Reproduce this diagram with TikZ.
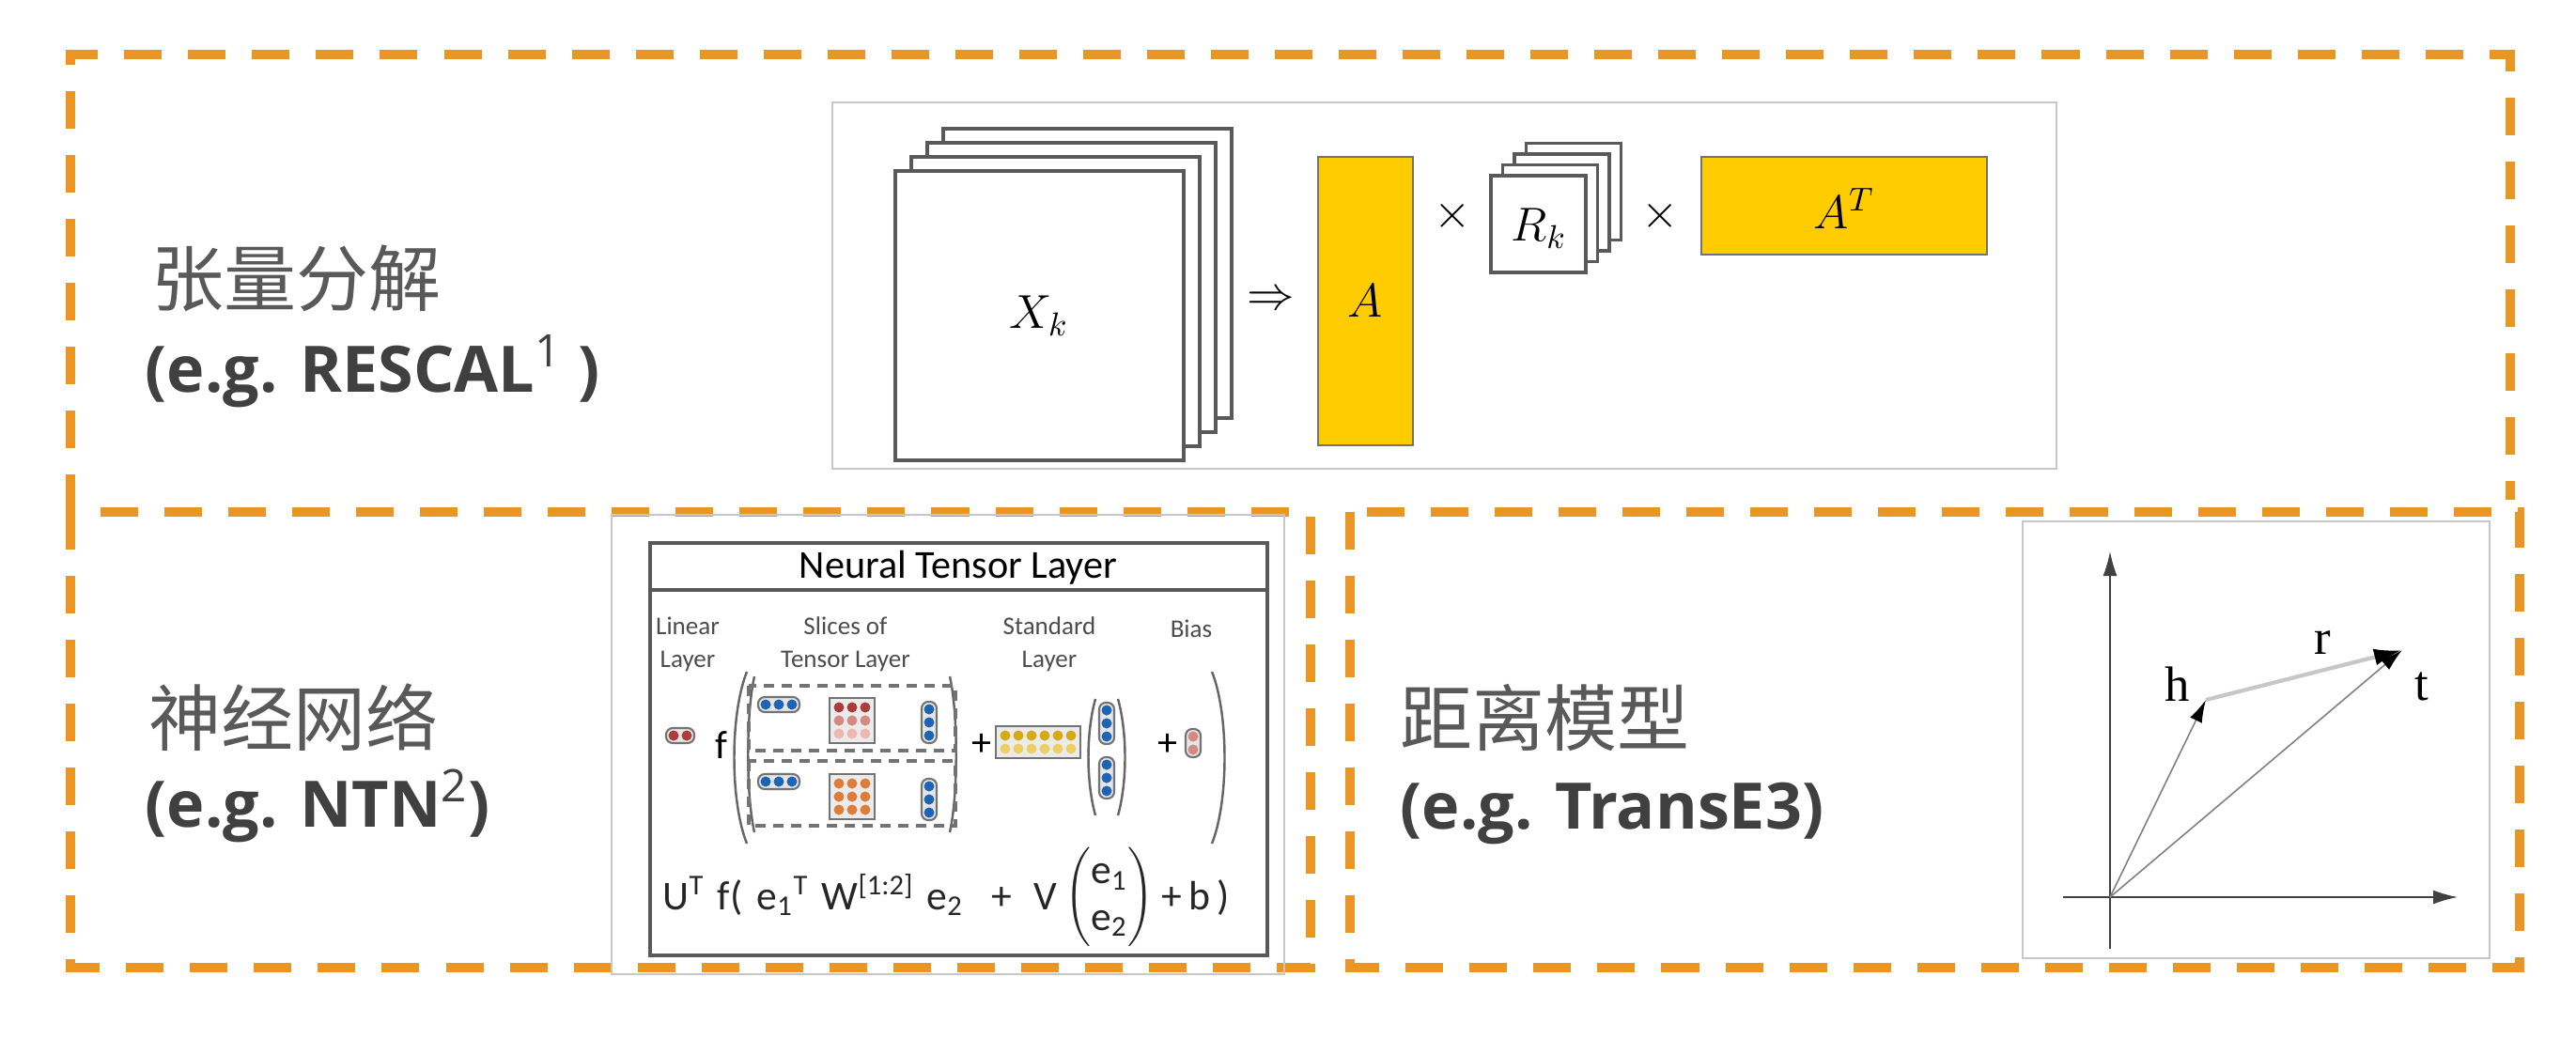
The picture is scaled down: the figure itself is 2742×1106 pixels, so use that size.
\documentclass[tikz,border=0pt]{standalone}
\usepackage{fontspec}
\usepackage{tikz}
\usetikzlibrary{arrows.meta}
\setmainfont{Open Sans}
\newfontfamily\cjkfont{Noto Sans CJK SC}
\newfontfamily\ntnfont{Carlito}
\newfontfamily\vecfont{Liberation Serif}
\definecolor{dashorange}{RGB}{233,150,36}
\definecolor{boxyellow}{RGB}{255,204,0}
\definecolor{headgray}{RGB}{89,89,89}
\definecolor{subgray}{RGB}{64,64,64}
\definecolor{ntnblue}{RGB}{30,100,180}
\definecolor{ntnred}{RGB}{170,60,58}
\definecolor{ntnpink}{RGB}{214,136,130}
\definecolor{ntnlight}{RGB}{236,184,178}
\definecolor{ntnorange}{RGB}{222,124,58}
\definecolor{ntnyellow}{RGB}{214,170,20}
\definecolor{ntnyellowb}{RGB}{236,208,100}

% rows and columns of little unit circles
\newcommand{\hpill}[4]{%
  \draw[pill] ({#1-8},{#2-8}) rectangle ({#1+14*(#3-1)+8},{#2+8});
  \foreach \i in {1,...,#3} \fill[#4] ({#1+14*(\i-1)},#2) circle (5.5);}
\newcommand{\vpill}[4]{%
  \draw[pill] ({#1-8},{#2-8}) rectangle ({#1+8},{#2+14*(#3-1)+8});
  \foreach \i in {1,...,#3} \fill[#4] (#1,{#2+14*(\i-1)}) circle (5.5);}
\newcommand{\dotgrid}[5]{%
  \draw[grid] ({#1-10},{#2-10}) rectangle ({#1+14*(#3-1)+10},{#2+14*(#4-1)+10});
  \foreach \c [count=\r] in {#5}
    \foreach \i in {1,...,#3} \fill[\c] ({#1+14*(\i-1)},{#2+14*(\r-1)}) circle (5.5);}

\begin{document}
\begin{tikzpicture}[x=0.01cm, y=-0.01cm,
    dashbox/.style={draw=dashorange, line width=2.8pt, dash pattern=on 0.4cm off 0.28cm},
    frame/.style={draw=black!22, line width=0.6pt},
    sheet/.style={draw=black!65, fill=white, line width=0.9pt},
    ybar/.style={draw=black!55, fill=boxyellow, line width=0.8pt},
    pill/.style={draw=black!55, fill=black!10, line width=0.6pt, rounded corners=2pt},
    grid/.style={draw=black!55, fill=black!8, line width=0.7pt},
    slice/.style={draw=black!55, line width=0.9pt, dash pattern=on 1.1mm off 0.8mm},
    paren/.style={draw=black!60, line width=0.7pt},
    cjk/.style={inner sep=0pt, anchor=west, text=headgray, font=\cjkfont\fontsize{21.9}{26}\selectfont},
    eg/.style={inner sep=0pt, anchor=west, text=subgray, font=\bfseries\fontsize{19.4}{23}\selectfont},
    mathlbl/.style={inner sep=0pt, font=\fontsize{14.5}{17}\selectfont},
    small/.style={inner sep=0pt, align=center, text=black!70, font=\ntnfont\fontsize{7.7}{10}\selectfont},
    eqn/.style={inner sep=0pt, anchor=base west, text=black!85, font=\ntnfont\fontsize{12.4}{15}\selectfont},
    axis/.style={draw=black!75, line width=0.5pt, -{Latex[length=2.6mm,width=1.5mm]}},
    vec/.style={draw=black!50, line width=0.45pt, -{Latex[length=2.4mm,width=1.4mm,color=black]}},
    rvec/.style={draw=black!22, line width=1.2pt, -{Latex[length=3mm,width=1.8mm,color=black]}},
    vlbl/.style={inner sep=0pt, font=\vecfont\fontsize{15}{18}\selectfont}]
\useasboundingbox (0,0) rectangle (2742,1106);

% the three dashed panels
\draw[dashbox] (75,545) -- (75,58) -- (2672,58) -- (2672,532);
\draw[dashbox] (75,545) rectangle (1395,1030);
\draw[dashbox] (1437,545) rectangle (2682,1030);

% --- tensor factorisation ---
\node[cjk] (tfname) at (161,296) {张量分解};
\node[eg] (tfeg) at (154,395) {(e.g. RESCAL\textsuperscript{\mdseries 1} )};
\draw[frame] (886,109) rectangle (2189,499);
\foreach \k in {3,2,1,0}
  \filldraw[sheet] ({953+17*\k},{182-15*\k}) rectangle ++(307,308);
\node[mathlbl] (xk) at (1106,336) {$X_k$};
\node[mathlbl] (impl) at (1353,320) {$\Rightarrow$};
\filldraw[ybar] (1403,167) rectangle (1504,474);
\node[mathlbl] (amat) at (1453,320) {$A$};
\node[mathlbl] (times1) at (1546,230) {$\times$};
\foreach \k in {3,2,1,0}
  \filldraw[sheet] ({1587+12.5*\k},{187-11.5*\k}) rectangle ++(101,103);
\node[mathlbl] (rk) at (1638,243) {$R_k$};
\node[mathlbl] (times2) at (1767,230) {$\times$};
\filldraw[ybar] (1811,167) rectangle (2115,271);
\node[mathlbl] (at) at (1963,222) {$A^T$};

% --- neural network ---
\node[cjk] (nnname) at (158,764) {神经网络};
\node[eg] (nneg) at (154,858) {(e.g. NTN\textsuperscript{\mdseries 2})};
\draw[frame] (651,548) rectangle (1367,1037);
\draw[draw=black!65, line width=1pt] (692,578) rectangle (1349,1017);
\draw[draw=black!65, line width=1pt] (692,628) -- (1349,628);
\node[inner sep=0pt, font=\ntnfont\fontsize{12}{14}\selectfont] (ntntitle) at (1020,604) {Neural Tensor Layer};
\node[small] (lin) at (732,686) {Linear\\Layer};
\node[small] (slc) at (900,686) {Slices of\\Tensor Layer};
\node[small] (std) at (1117,686) {Standard\\Layer};
\node[small] (bias) at (1268,669) {Bias};

\hpill{717}{783}{2}{ntnred}
\node[inner sep=0pt, font=\ntnfont\fontsize{12}{14}\selectfont] (fn) at (768,793) {f};
\draw[paren] (795,715) .. controls (777,760) and (777,853) .. (795,898);
\draw[paren] (1290,715) .. controls (1308,760) and (1308,853) .. (1290,898);
\draw[paren] (803,720) .. controls (794,760) and (794,846) .. (803,886);
\draw[paren] (1011,720) .. controls (1020,760) and (1020,846) .. (1011,886);
\draw[slice] (797,730) rectangle (1017,799);
\draw[slice] (797,810) rectangle (1017,879);
\hpill{815}{750}{3}{ntnblue}
\dotgrid{893}{753}{3}{3}{ntnred,ntnpink,ntnlight}
\vpill{989}{755}{3}{ntnblue}
\hpill{815}{832}{3}{ntnblue}
\dotgrid{893}{834}{3}{3}{ntnorange,ntnorange,ntnorange}
\vpill{989}{837}{3}{ntnblue}
\node[inner sep=0pt, font=\ntnfont\fontsize{12}{14}\selectfont] (plus1) at (1045,793) {+};
\dotgrid{1070}{783}{6}{2}{ntnyellow,ntnyellowb}
\draw[paren] (1166,744) .. controls (1156,780) and (1156,832) .. (1166,868);
\draw[paren] (1190,744) .. controls (1200,780) and (1200,832) .. (1190,868);
\vpill{1178}{756}{3}{ntnblue}
\vpill{1178}{814}{3}{ntnblue}
\node[inner sep=0pt, font=\ntnfont\fontsize{12}{14}\selectfont] (plus2) at (1243,793) {+};
\vpill{1270}{784}{2}{ntnpink}

\node[eqn] (u) at (705,968) {U\textsuperscript{T}};
\node[eqn] (fopen) at (763,968) {f(};
\node[eqn] (e1) at (805,968) {e\textsubscript{1}\textsuperscript{T}};
\node[eqn] (w) at (874,968) {W\textsuperscript{[1:2]}};
\node[eqn] (e2) at (986,968) {e\textsubscript{2}};
\node[eqn] (plus3) at (1055,968) {+};
\node[eqn] (v) at (1100,968) {V};
\node[inner sep=0pt, text=black!85, font=\ntnfont\fontsize{12.4}{15}\selectfont] (evec) at (1181,955)
  {$\left(\begin{tabular}{@{}c@{}}e\textsubscript{1}\\[-1pt]e\textsubscript{2}\end{tabular}\right)$};
\node[eqn] (bclose) at (1236,968) {+\,b\,)};

% --- distance model ---
\node[cjk] (dmname) at (1490,764) {距离模型};
\node[eg] (dmeg) at (1490,866) {(e.g. TransE3)};
\draw[frame] (2153,555) rectangle (2650,1020);
\coordinate (ybot) at (2246,1010);
\coordinate (ytop) at (2246,587);
\coordinate (xleft) at (2196,955);
\coordinate (xright) at (2616,955);
\coordinate (O) at (2246,955);
\coordinate (H) at (2348,745);
\coordinate (T) at (2557,692);
\draw[axis] (ybot) -- (ytop);
\draw[axis] (xleft) -- (xright);
\draw[vec] (O) -- (H);
\draw[vec] (O) -- (T);
\draw[rvec] (H) -- (T);
\node[vlbl] (hl) at (2318,728) {h};
\node[vlbl] (rl) at (2472,684) {r};
\node[vlbl] (tl) at (2578,731) {t};
\end{tikzpicture}
\end{document}
